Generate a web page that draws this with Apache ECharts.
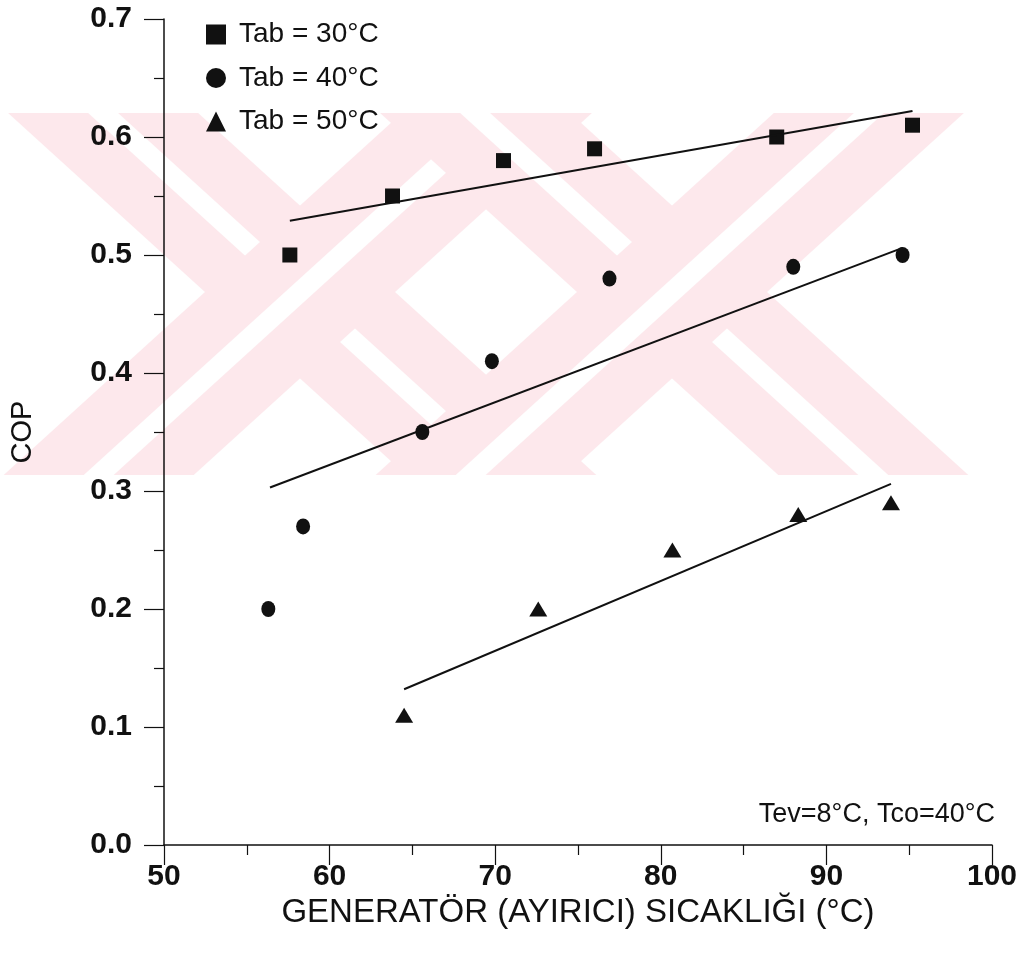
<!DOCTYPE html>
<html>
<head>
<meta charset="utf-8">
<title>COP - Generator sicakligi</title>
<script src="https://cdn.jsdelivr.net/npm/echarts@6/dist/echarts.min.js"></script>
<style>
  html, body { margin: 0; padding: 0; background: #fff; }
  #chart { width: 1036px; height: 960px; }
</style>
</head>
<body>
<div id="chart"></div>
<script>
// olcum noktalari (Tab = 30, 40, 50 °C)
var tab30X = [57.6, 63.8, 70.5, 76.0, 87.0, 95.2];
var tab30Y = [0.50, 0.55, 0.58, 0.59, 0.60, 0.61];
var tab40X = [56.3, 58.4, 65.6, 69.8, 76.9, 88.0, 94.6];
var tab40Y = [0.20, 0.27, 0.35, 0.41, 0.48, 0.49, 0.50];
var tab50X = [64.5, 72.6, 80.7, 88.3, 93.9];
var tab50Y = [0.11, 0.20, 0.25, 0.28, 0.29];

// dogrusal egri uydurma (baslangic / bitis)
var fit30X = [57.6, 95.2];
var fit30Y = [0.529, 0.622];
var fit40X = [56.4, 94.6];
var fit40Y = [0.303, 0.506];
var fit50X = [64.5, 93.9];
var fit50Y = [0.132, 0.306];

var seriesNames = ['Tab = 30°C', 'Tab = 40°C', 'Tab = 50°C'];
var note = 'Tev=8°C, Tco=40°C';

var FONT = "'Liberation Sans', Arial, sans-serif";

function pairs(xs, ys) {
    return xs.map(function (x, i) { return [x, ys[i]]; });
}

// arka plandaki soluk kirmizi filigran (XX)
function watermark() {
    var top = 113, bottom = 475, cy = 292, h = 95, s = 15, k = 1.1;
    var centers = [300, 672];
    var list = [];
    centers.forEach(function (cx) {
        [1, -1].forEach(function (dir) {
            var xt = cx - dir * k * (cy - top);
            var xb = cx + dir * k * (bottom - cy);
            list.push({
                type: 'polygon', z: -1, silent: true,
                shape: { points: [[xt - h, top], [xt + h, top], [xb + h, bottom], [xb - h, bottom]] },
                style: { fill: '#fde8ec' }
            });
            list.push({
                type: 'polygon', z: -1, silent: true,
                shape: { points: [[xt - s, top], [xt + s, top], [xb + s, bottom], [xb - s, bottom]] },
                style: { fill: '#ffffff' }
            });
        });
    });
    return list;
}

var myChart = echarts.init(document.getElementById('chart'));

var option = {
    backgroundColor: '#fff',
    animation: false,
    textStyle: { fontFamily: FONT, color: '#111' },
    graphic: watermark(),
    title: {
        text: note,
        right: 36,
        top: 796,
        textStyle: { fontFamily: FONT, fontSize: 27, fontWeight: 'normal', color: '#111' }
    },
    legend: {
        data: seriesNames,
        orient: 'vertical',
        left: 201,
        top: 15,
        itemWidth: 20,
        itemHeight: 20,
        itemGap: 14.5,
        textStyle: { fontFamily: FONT, fontSize: 28, color: '#111', lineHeight: 29, padding: [0, 0, 0, 8] }
    },
    grid: { left: 163, right: 44, top: 19, bottom: 115 },
    xAxis: {
        type: 'value',
        min: 50,
        max: 100,
        interval: 10,
        name: 'GENERATÖR (AYIRICI) SICAKLIĞI (°C)',
        nameLocation: 'middle',
        nameGap: 49,
        nameTextStyle: { fontFamily: FONT, fontSize: 33, color: '#111' },
        axisLine: { lineStyle: { color: '#111', width: 1.5 } },
        axisTick: { length: 20, lineStyle: { color: '#111', width: 1.2 } },
        minorTick: { show: true, splitNumber: 2, length: 10, lineStyle: { color: '#111', width: 1.2 } },
        splitLine: { show: false },
        axisLabel: { margin: 17, fontFamily: FONT, fontSize: 30, fontWeight: 'bold', color: '#111' }
    },
    yAxis: {
        type: 'value',
        min: 0,
        max: 0.7,
        interval: 0.1,
        name: 'COP',
        nameLocation: 'middle',
        nameGap: 127,
        nameTextStyle: { fontFamily: FONT, fontSize: 29, color: '#111' },
        axisLine: { show: true, lineStyle: { color: '#111', width: 1.5 } },
        axisTick: { show: true, length: 20, lineStyle: { color: '#111', width: 1.2 } },
        minorTick: { show: true, splitNumber: 2, length: 10, lineStyle: { color: '#111', width: 1.2 } },
        splitLine: { show: false },
        axisLabel: {
            margin: 32, fontFamily: FONT, fontSize: 30, fontWeight: 'bold', color: '#111',
            formatter: function (v) { return v.toFixed(1); }
        }
    },
    series: [
        {
            name: seriesNames[0], type: 'scatter', symbol: 'rect', symbolSize: 15,
            itemStyle: { color: '#111', opacity: 1 }, data: pairs(tab30X, tab30Y)
        },
        {
            name: seriesNames[1], type: 'scatter', symbol: 'circle', symbolSize: [14, 16],
            itemStyle: { color: '#111', opacity: 1 }, data: pairs(tab40X, tab40Y)
        },
        {
            name: seriesNames[2], type: 'scatter', symbol: 'triangle', symbolSize: [18, 15],
            itemStyle: { color: '#111', opacity: 1 }, data: pairs(tab50X, tab50Y)
        },
        {
            type: 'line', silent: true, showSymbol: false, symbol: 'none',
            lineStyle: { color: '#111', width: 2 }, data: pairs(fit30X, fit30Y)
        },
        {
            type: 'line', silent: true, showSymbol: false, symbol: 'none',
            lineStyle: { color: '#111', width: 2 }, data: pairs(fit40X, fit40Y)
        },
        {
            type: 'line', silent: true, showSymbol: false, symbol: 'none',
            lineStyle: { color: '#111', width: 2 }, data: pairs(fit50X, fit50Y)
        }
    ]
};

myChart.setOption(option);
</script>
</body>
</html>
